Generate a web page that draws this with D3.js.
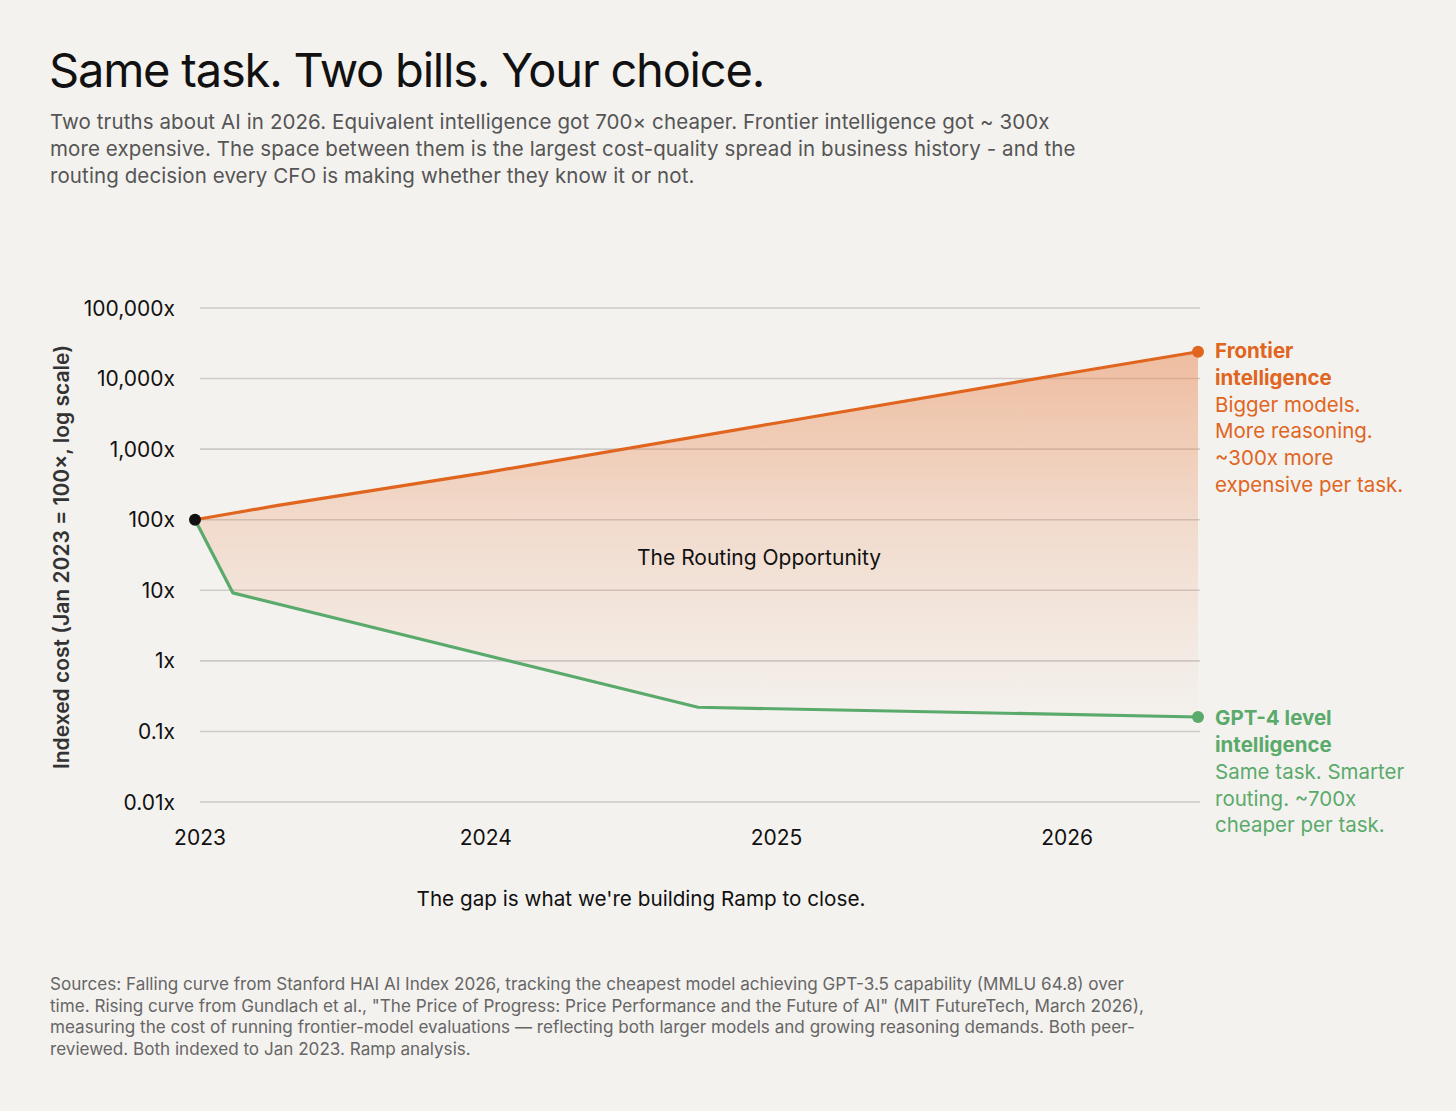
<!DOCTYPE html>
<html>
<head>
<meta charset="utf-8">
<script src="https://cdn.jsdelivr.net/npm/d3@7"></script>
<style>
  html, body { margin: 0; padding: 0; background: #f4f2ef; }
  svg { display: block; font-family: Inter, "Noto Sans", sans-serif; }
</style>
</head>
<body>
<svg id="chart" width="1456" height="1111"></svg>
<script>
// ---- data ----
const yearTicks = [2023, 2024, 2025, 2026];
const yTickValues = [100000, 10000, 1000, 100, 10, 1, 0.1, 0.01];
const yTickLabels = ["100,000x", "10,000x", "1,000x", "100x", "10x", "1x", "0.1x", "0.01x"];
// decimal years
const frontierYears = [2023.0, 2023.28, 2024.0, 2025.0, 2026.0, 2026.45];
const frontierValues = [100, 158, 465, 2350, 11800, 24000];
const gpt4Years = [2023.0, 2023.13, 2024.73, 2026.45];
const gpt4Values = [100, 9.2, 0.22, 0.16];

const titleText = "Same task. Two bills. Your choice.";
const subtitleLines = [
  "Two truths about AI in 2026. Equivalent intelligence got 700\u00d7 cheaper. Frontier intelligence got ~ 300x",
  "more expensive. The space between them is the largest cost-quality spread in business history - and the",
  "routing decision every CFO is making whether they know it or not."
];
const frontierLabelBold = ["Frontier", "intelligence"];
const frontierLabelText = ["Bigger models.", "More reasoning.", "~300x more", "expensive per task."];
const gpt4LabelBold = ["GPT-4 level", "intelligence"];
const gpt4LabelText = ["Same task. Smarter", "routing. ~700x", "cheaper per task."];
const yAxisTitle = "Indexed cost (Jan 2023 = 100\u00d7, log scale)";
const areaLabel = "The Routing Opportunity";
const bottomNote = "The gap is what we're building Ramp to close.";
const sourceLines = [
  "Sources: Falling curve from Stanford HAI AI Index 2026, tracking the cheapest model achieving GPT-3.5 capability (MMLU 64.8) over",
  "time. Rising curve from Gundlach et al., \"The Price of Progress: Price Performance and the Future of AI\" (MIT FutureTech, March 2026),",
  "measuring the cost of running frontier-model evaluations \u2014 reflecting both larger models and growing reasoning demands. Both peer-",
  "reviewed. Both indexed to Jan 2023. Ramp analysis."
];

// ---- colors ----
const bg = "#f4f2ef";
const orange = "#e0651f";
const green = "#5aaa6b";

const svg = d3.select("#chart");
svg.append("rect").attr("width", 1456).attr("height", 1111).attr("fill", bg);

// ---- scales ----
const x = d3.scaleLinear().domain([2023, 2026.45]).range([195, 1198]);
const y = d3.scaleLog().domain([0.01, 100000]).range([802, 308]);
const gridX0 = 200, gridX1 = 1200;

// ---- title ----
svg.append("text").attr("x", 49).attr("y", 87)
  .attr("font-size", 47).attr("font-weight", 400).attr("letter-spacing", -1.2)
  .attr("fill", "#111").text(titleText);
svg.append("g").selectAll("text").data(subtitleLines).join("text")
  .attr("x", 50).attr("y", (d, i) => 129 + i * 27)
  .attr("font-size", 20.5).attr("letter-spacing", 0.1).attr("fill", "#555")
  .text(d => d);

// ---- gridlines ----
svg.append("g").selectAll("line").data(yTickValues).join("line")
  .attr("x1", gridX0).attr("x2", gridX1)
  .attr("y1", d => y(d)).attr("y2", d => y(d))
  .attr("stroke", "#cdcac7").attr("stroke-width", 1.6);

// ---- y axis labels ----
svg.append("g").selectAll("text").data(yTickValues).join("text")
  .attr("x", 175).attr("y", d => y(d)).attr("dy", "0.36em")
  .attr("text-anchor", "end").attr("font-size", 21).attr("fill", "#111")
  .text((d, i) => yTickLabels[i]);

svg.append("text")
  .attr("transform", `translate(69, ${(y(100000) + y(0.01)) / 2 + 2}) rotate(-90)`)
  .attr("text-anchor", "middle").attr("font-size", 21).attr("font-weight", 600)
  .attr("fill", "#333").text(yAxisTitle);

// ---- x axis labels ----
svg.append("g").selectAll("text").data(yearTicks).join("text")
  .attr("x", d => x(d) + (d === 2023 ? 5 : 0)).attr("y", 845)
  .attr("text-anchor", "middle").attr("font-size", 21).attr("fill", "#111")
  .text(d => d);

// ---- area between curves ----
const defs = svg.append("defs");
const grad = defs.append("linearGradient").attr("id", "gapGrad")
  .attr("gradientUnits", "userSpaceOnUse")
  .attr("x1", 0).attr("x2", 0).attr("y1", y(d3.max(frontierValues))).attr("y2", y(d3.min(gpt4Values)) - 10);
grad.append("stop").attr("offset", 0).attr("stop-color", "#e8834a").attr("stop-opacity", 0.48);
grad.append("stop").attr("offset", 0.5).attr("stop-color", "#e8834a").attr("stop-opacity", 0.2);
grad.append("stop").attr("offset", 1).attr("stop-color", "#e8834a").attr("stop-opacity", 0.02);

const frontier = frontierYears.map((t, i) => ({ t, v: frontierValues[i] }));
const gpt4 = gpt4Years.map((t, i) => ({ t, v: gpt4Values[i] }));

const polyPts = frontier.map(d => [x(d.t), y(d.v)])
  .concat(gpt4.slice().reverse().map(d => [x(d.t), y(d.v)]));
svg.append("path")
  .attr("d", "M" + polyPts.map(p => p.join(",")).join("L") + "Z")
  .attr("fill", "url(#gapGrad)");

const line = d3.line().x(d => x(d.t)).y(d => y(d.v));
svg.append("path").datum(frontier).attr("d", line)
  .attr("fill", "none").attr("stroke", orange).attr("stroke-width", 3.2).attr("stroke-linejoin", "round");
svg.append("path").datum(gpt4).attr("d", line)
  .attr("fill", "none").attr("stroke", green).attr("stroke-width", 3.2).attr("stroke-linejoin", "round");

// end dots
const fEnd = frontier[frontier.length - 1];
const gEnd = gpt4[gpt4.length - 1];
svg.append("circle").attr("cx", x(fEnd.t)).attr("cy", y(fEnd.v)).attr("r", 6).attr("fill", orange);
svg.append("circle").attr("cx", x(gEnd.t)).attr("cy", y(gEnd.v)).attr("r", 6).attr("fill", green);
svg.append("circle").attr("cx", x(frontier[0].t)).attr("cy", y(frontier[0].v)).attr("r", 6).attr("fill", "#111");

// area label
svg.append("text").attr("x", 759).attr("y", 557).attr("dy", "0.36em")
  .attr("text-anchor", "middle").attr("font-size", 21).attr("fill", "#111").text(areaLabel);

// ---- right annotations ----
function annot(bold, regular, color, y0) {
  const g = svg.append("g");
  bold.concat(regular).forEach((t, i) => {
    g.append("text").attr("x", 1215).attr("y", y0 + i * 26.7)
      .attr("dy", "0.36em")
      .attr("font-size", 20.5)
      .attr("font-weight", i < bold.length ? 700 : 400)
      .attr("fill", color).text(t);
  });
}
annot(frontierLabelBold, frontierLabelText, orange, y(fEnd.v) - 1);
annot(gpt4LabelBold, gpt4LabelText, green, y(gEnd.v) + 1);

// bottom note
svg.append("text").attr("x", 641).attr("y", 906)
  .attr("text-anchor", "middle").attr("font-size", 20.7).attr("fill", "#111").text(bottomNote);

// sources
svg.append("g").selectAll("text").data(sourceLines).join("text")
  .attr("x", 50).attr("y", (d, i) => 990 + i * 21.7)
  .attr("font-size", 17.1).attr("fill", "#666")
  .text(d => d);
</script>
</body>
</html>
